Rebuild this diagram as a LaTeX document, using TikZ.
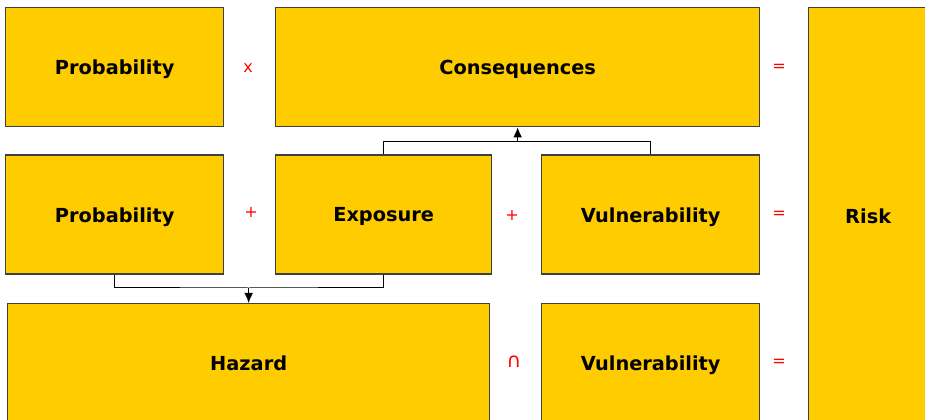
\documentclass[tikz,border=0pt]{standalone}
\usepackage{fontspec}
\setmainfont{DejaVu Sans}
\usetikzlibrary{arrows.meta}

\begin{document}
\begin{tikzpicture}[x=0.75pt,y=0.75pt,yscale=-1,xscale=1,
  box/.style={draw={rgb, 255:red, 64; green, 64; blue, 64}, fill={rgb, 255:red, 255; green, 204; blue, 0}, line width=1, anchor=north west, inner sep=0.75pt, text depth=0pt, minimum height=89.25pt, font=\fontsize{14.5}{17}\selectfont\bfseries},
  op/.style={text={rgb, 255:red, 255; green, 0; blue, 0}, inner sep=0.75pt, font=\fontsize{12}{14}\selectfont},
  link/.style={draw=black, line width=0.75},
  arr/.style={link, -{Latex[length=7.5pt,width=6.5pt]}}]
%set diagram left start at 0, and has height of 420
\clip (0,0) rectangle (925,420);

%Shape: Rectangle row 1
\node [box, minimum width=163.5pt] (prob1) at (5,7) {Probability};
\node [box, minimum width=363pt] (cons) at (275,7) {Consequences};
\node [box, minimum width=89.25pt, minimum height=312pt] (risk) at (808,7) {Risk};
%Shape: Rectangle row 2
\node [box, minimum width=163.5pt] (prob2) at (5,154.5) {Probability};
\node [box, minimum width=162pt] (expo) at (275,154.5) {Exposure};
\node [box, minimum width=163.5pt] (vuln2) at (541,154.5) {Vulnerability};
%Shape: Rectangle row 3
\node [box, minimum width=361.5pt] (hazard) at (7,303) {Hazard};
\node [box, minimum width=163.5pt] (vuln3) at (541,303) {Vulnerability};

% Text Node
\node [op] (times) at (248,68) {x};
\node [op] (eq1) at (779,68) {=};
\node [op] (plus1) at (251,212) {+};
\node [op] (plus2) at (512,215) {+};
\node [op] (eq2) at (779,215) {=};
\node [op, font=\fontsize{15}{17}\selectfont] (cap) at (514,362) {∩};
\node [op] (eq3) at (779,363) {=};

%Straight Lines
\coordinate (hazjoin) at ([yshift=-11.25pt]hazard.north);
\draw [link] (prob2.south) |- (hazjoin) -| (expo.south);
\draw [arr] (hazjoin) -- (hazard.north);
%Straight Lines
\coordinate (consjoin) at ([yshift=10.5pt]cons.south);
\draw [link] (expo.north) |- (consjoin) -| (vuln2.north);
\draw [arr] (consjoin) -- (cons.south);

\end{tikzpicture}
\end{document}
